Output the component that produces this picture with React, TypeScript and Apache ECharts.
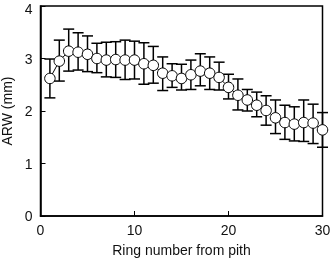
import React, { useEffect, useRef } from "react";
import * as echarts from "echarts";

const rings = [1,2,3,4,5,6,7,8,9,10,11,12,13,14,15,16,17,18,19,20,21,22,23,24,25,26,27,28,29,30];
const meanARW = [2.62,2.95,3.14,3.12,3.08,3.0,2.97,2.98,2.97,2.97,2.9,2.87,2.72,2.67,2.62,2.69,2.76,2.72,2.64,2.45,2.3,2.21,2.11,2.01,1.87,1.78,1.75,1.78,1.77,1.64];
const upperARW = [2.99,3.35,3.56,3.49,3.43,3.29,3.31,3.32,3.35,3.33,3.3,3.23,3.03,2.9,2.89,2.97,3.09,3.03,2.93,2.7,2.61,2.41,2.36,2.29,2.21,2.11,2.08,2.21,2.13,1.97];
const lowerARW = [2.25,2.57,2.76,2.78,2.75,2.73,2.65,2.64,2.6,2.61,2.51,2.53,2.39,2.45,2.4,2.41,2.48,2.41,2.4,2.23,2.02,2.0,1.89,1.73,1.57,1.46,1.43,1.42,1.38,1.31];
const xTicks = [0, 10, 20, 30];
const yTicks = [0, 1, 2, 3, 4];

export default function App() {
  const ref = useRef<HTMLDivElement>(null);
  useEffect(() => {
    if (!ref.current) return;
    const chart = echarts.init(ref.current, null, { renderer: "svg" });
    const font = "Liberation Sans, Arial, sans-serif";
    const errData = rings.map((r, i) => [r, lowerARW[i], upperARW[i]]);
    const yMax = yTicks[yTicks.length - 1];
    chart.setOption({
      animation: false,
      grid: {
        left: 40.5, right: 8.5, top: 6, bottom: 44,
        containLabel: false, outerBoundsMode: "none",
        show: true, borderColor: "#000", borderWidth: 1.5,
      },
      xAxis: {
        type: "value", min: 0, max: 30, interval: 10,
        name: "Ring number from pith", nameLocation: "middle", nameGap: 27,
        nameTextStyle: { fontFamily: font, fontSize: 14, color: "#111" },
        axisLine: { show: true, lineStyle: { color: "#000", width: 1.5 } },
        axisTick: { show: true, inside: true, length: 5, lineStyle: { color: "#000" } },
        axisLabel: { fontFamily: font, fontSize: 14, color: "#111", margin: 7, showMinLabel: true, showMaxLabel: true,
          formatter: (v: number) => (xTicks.includes(v) ? String(v) : "") },
        splitLine: { show: false },
      },
      yAxis: {
        type: "value", min: 0, max: 4, interval: 1,
        name: "ARW (mm)", nameLocation: "middle", nameGap: 27, nameRotate: 90,
        nameTextStyle: { fontFamily: font, fontSize: 14, color: "#111" },
        axisLine: { show: true, lineStyle: { color: "#000", width: 1.5 } },
        axisTick: { show: true, inside: true, length: 5, lineStyle: { color: "#000" } },
        axisLabel: { fontFamily: font, fontSize: 14, color: "#111", margin: 8, showMinLabel: true, showMaxLabel: true,
          formatter: (v: number) => (!yTicks.includes(v) ? "" : v === yMax ? "{t|" + v + "}" : String(v)),
          rich: { t: { fontFamily: font, fontSize: 14, color: "#111", padding: [5, 0, 0, 0] } } },
        splitLine: { show: false },
      },
      series: [
        {
          type: "custom",
          data: errData,
          z: 2,
          clip: false,
          renderItem: (params: any, api: any) => {
            const x = api.value(0);
            const lo = api.coord([x, api.value(1)]);
            const hi = api.coord([x, api.value(2)]);
            const hw = 5.5;
            const st = { stroke: "#000", lineWidth: 1.5 };
            return {
              type: "group",
              children: [
                { type: "line", shape: { x1: lo[0], y1: lo[1], x2: hi[0], y2: hi[1] }, style: st },
                { type: "line", shape: { x1: lo[0] - hw, y1: lo[1], x2: lo[0] + hw, y2: lo[1] }, style: st },
                { type: "line", shape: { x1: hi[0] - hw, y1: hi[1], x2: hi[0] + hw, y2: hi[1] }, style: st },
              ],
            };
          },
        },
        {
          type: "line",
          data: rings.map((r, i) => [r, meanARW[i]]),
          z: 3,
          clip: false,
          symbol: "circle",
          symbolSize: 10.5,
          itemStyle: { color: "#fff", borderColor: "#000", borderWidth: 1 },
          lineStyle: { color: "#000", width: 1 },
        },
      ],
    });
    return () => chart.dispose();
  }, []);
  return <div ref={ref} style={{ width: 331, height: 260, position: "fixed", left: 0, top: 0 }} />;
}
